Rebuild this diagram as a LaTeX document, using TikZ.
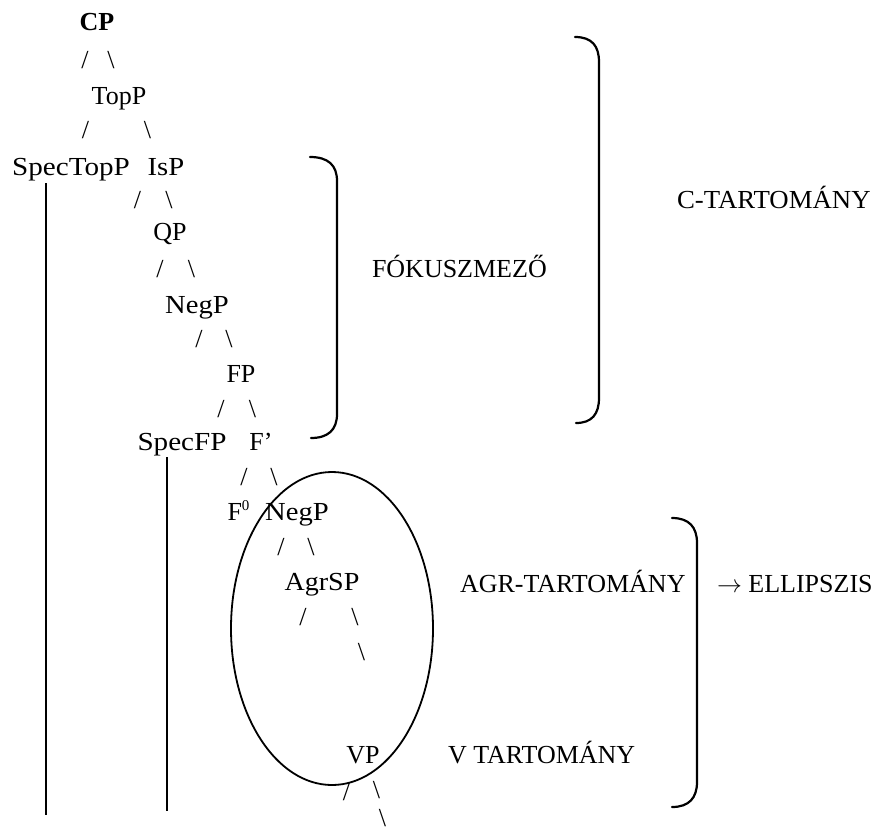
\documentclass[tikz,border=0pt]{standalone}
\usepackage{fontspec}
\setmainfont{Liberation Serif}
\usetikzlibrary{shapes.geometric}
\begin{document}
\begin{tikzpicture}[x=1pt,y=-1pt,
  lab/.style={inner sep=0pt, outer sep=0pt, anchor=base, font=\fontsize{26}{30}\selectfont},
  brk/.style={line width=2.2pt, line cap=round},
  vline/.style={line width=2.6pt},
]
\useasboundingbox (0,0) rectangle (879,831);
% tree labels
\node[lab] (cp) at (97,30) {\textbf{CP}};
\node[lab] (cpsa) at (85,68) {/};
\node[lab] (cpsb) at (111,68) {\textbackslash};
\node[lab] (topp) at (119,104) {TopP};
\node[lab] (toppsa) at (85.5,138) {/};
\node[lab] (toppsb) at (147.5,138) {\textbackslash};
\node[lab] (spectopp) at (71,175) {\scalebox{1.12}[1]{SpecTopP}};
\node[lab] (isp) at (166,175) {\scalebox{1.1}[1]{IsP}};
\node[lab] (ispsa) at (137.5,208) {/};
\node[lab] (ispsb) at (169,208) {\textbackslash};
\node[lab] (qp) at (170,240) {QP};
\node[lab] (qpsa) at (160,277) {/};
\node[lab] (qpsb) at (191.5,277) {\textbackslash};
\node[lab] (negp) at (197,313) {\scalebox{1.1}[1]{NegP}};
\node[lab] (negpsa) at (199,347) {/};
\node[lab] (negpsb) at (229,347) {\textbackslash};
\node[lab] (fp) at (241,382) {FP};
\node[lab] (fpsa) at (221,417) {/};
\node[lab] (fpsb) at (252.5,417) {\textbackslash};
\node[lab] (specfp) at (182,450) {\scalebox{1.12}[1]{SpecFP}};
\node[lab] (fbar) at (261,450) {F’};
\node[lab] (fbarsa) at (244,485) {/};
\node[lab] (fbarsb) at (274,485) {\textbackslash};
\node[lab] (fzero) at (238.5,520) {F\raisebox{10pt}{\fontsize{15}{15}\selectfont 0}};
\node[lab] (negpb) at (297,520) {\scalebox{1.1}[1]{NegP}};
\node[lab] (negpbsa) at (281,555) {/};
\node[lab] (negpbsb) at (311,555) {\textbackslash};
\node[lab] (agrsp) at (322,590) {\scalebox{1.08}[1]{AgrSP}};
\node[lab] (agrspsa) at (303,625) {/};
\node[lab] (agrspsb) at (355,625) {\textbackslash};
\node[lab] (agrspsc) at (361.5,660) {\textbackslash};
\node[lab] (vp) at (363,763) {VP};
\node[lab] (vpsa) at (346.5,800) {/};
\node[lab] (vpsb) at (376.5,798) {\textbackslash};
\node[lab] (vpsc) at (382.5,826) {\textbackslash};
% vertical lines
\coordinate (vat) at (46,183);
\coordinate (vab) at (46,815);
\coordinate (vbt) at (167,457);
\coordinate (vbb) at (167,811);
\draw[vline] (vat) -- (vab);
\draw[vline] (vbt) -- (vbb);
% ellipse
\node[draw, line width=1.8pt, ellipse, inner sep=0pt, minimum width=202pt, minimum height=313pt] (ell) at (332,628.5) {};
% brackets
\draw[brk] (310,157) .. controls (328,157) and (337,165) .. (337,181) -- (337,414) .. controls (337,430) and (328,438) .. (311,438);
\draw[brk] (575,37) .. controls (592,37) and (599,46) .. (599,62) -- (599,398) .. controls (599,414) and (592,423) .. (576,423);
\draw[brk] (672,518) .. controls (689,518) and (697,527) .. (697,543) -- (697,782) .. controls (697,798) and (689,807) .. (672,807);
% labels
\node[lab, anchor=base west] (fok) at (372,277) {FÓKUSZMEZŐ};
\node[lab, anchor=base west] (ctart) at (677,208) {\scalebox{1.03}[1]{C-TARTOMÁNY}};
\node[lab, anchor=base west] (agrtart) at (460,592) {AGR-TARTOMÁNY};
\node[lab, anchor=base west] (ellip) at (717,592) {$\rightarrow$ ELLIPSZIS};
\node[lab, anchor=base west] (vtart) at (448,763) {V TARTOMÁNY};
\end{tikzpicture}
\end{document}
